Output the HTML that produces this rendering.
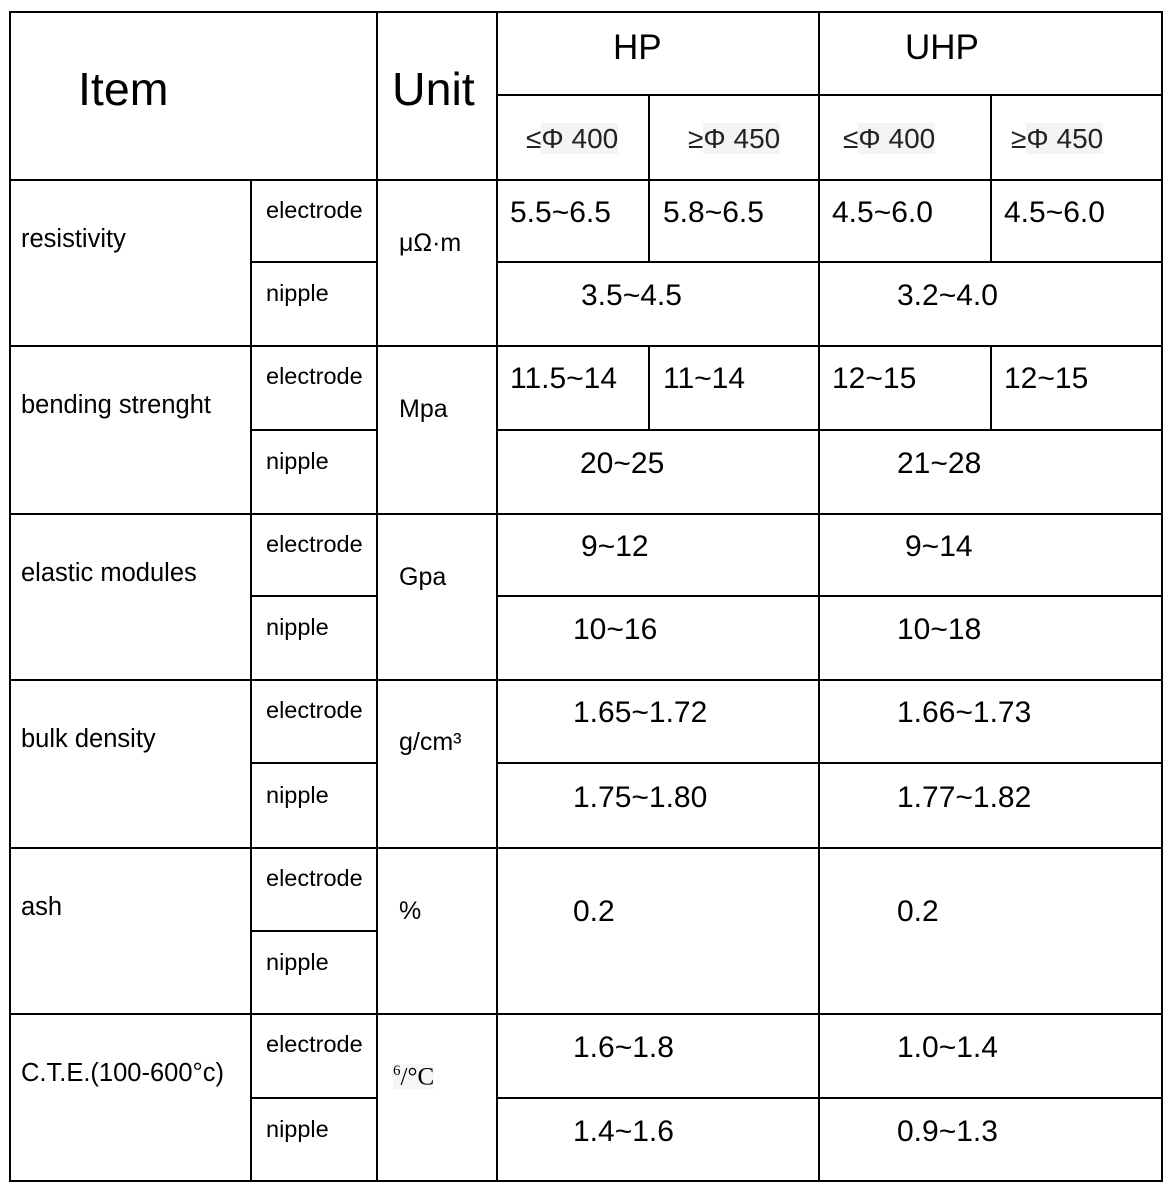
<!DOCTYPE html>
<html><head><meta charset="utf-8"><style>
body{margin:0;width:1172px;height:1194px;background:#fff;position:relative;font-family:"Liberation Sans",Arial,sans-serif;color:#000;overflow:hidden}
.h{position:absolute;height:2px;background:#000}
.v{position:absolute;width:2px;background:#000}
.t{position:absolute;white-space:nowrap;line-height:1}
.s{font-size:25.5px}
.e{font-size:23.5px}
.u{font-size:25px}
.n{font-size:30px}
.sub{font-size:28px;color:#222}
.hl{background:#f4f4f4}
</style></head><body>
<div class="h" style="left:9px;top:11px;width:1154px"></div>
<div class="h" style="left:9px;top:1180px;width:1154px"></div>
<div class="v" style="left:9px;top:11px;height:1171px"></div>
<div class="v" style="left:1161px;top:11px;height:1171px"></div>
<div class="v" style="left:376px;top:11px;height:1171px"></div>
<div class="v" style="left:496px;top:11px;height:1171px"></div>
<div class="v" style="left:818px;top:11px;height:1171px"></div>
<div class="v" style="left:250px;top:179px;height:1003px"></div>
<div class="h" style="left:496px;top:94px;width:666px"></div>
<div class="v" style="left:648px;top:94px;height:86px"></div>
<div class="v" style="left:990px;top:94px;height:86px"></div>
<div class="v" style="left:648px;top:179px;height:83px"></div>
<div class="v" style="left:990px;top:179px;height:83px"></div>
<div class="v" style="left:648px;top:345px;height:85px"></div>
<div class="v" style="left:990px;top:345px;height:85px"></div>
<div class="h" style="left:9px;top:179px;width:1154px"></div>
<div class="h" style="left:250px;top:261px;width:127px"></div><div class="h" style="left:496px;top:261px;width:666px"></div>
<div class="h" style="left:9px;top:345px;width:1154px"></div>
<div class="h" style="left:250px;top:429px;width:127px"></div><div class="h" style="left:496px;top:429px;width:666px"></div>
<div class="h" style="left:9px;top:513px;width:1154px"></div>
<div class="h" style="left:250px;top:595px;width:127px"></div><div class="h" style="left:496px;top:595px;width:666px"></div>
<div class="h" style="left:9px;top:679px;width:1154px"></div>
<div class="h" style="left:250px;top:762px;width:127px"></div><div class="h" style="left:496px;top:762px;width:666px"></div>
<div class="h" style="left:9px;top:847px;width:1154px"></div>
<div class="h" style="left:250px;top:930px;width:127px"></div>
<div class="h" style="left:9px;top:1013px;width:1154px"></div>
<div class="h" style="left:250px;top:1097px;width:127px"></div><div class="h" style="left:496px;top:1097px;width:666px"></div>
<div class="t" style="left:78px;top:66px;font-size:46.5px">Item</div>
<div class="t" style="left:392px;top:66px;font-size:46.5px">Unit</div>
<div class="t" style="left:613px;top:30px;font-size:35px">HP</div>
<div class="t" style="left:905px;top:30px;font-size:35px">UHP</div>
<div class="t sub" style="left:526px;top:125px">≤<span class="hl">Φ 400</span></div>
<div class="t sub" style="left:688px;top:125px">≥<span class="hl">Φ 450</span></div>
<div class="t sub" style="left:843px;top:125px">≤<span class="hl">Φ 400</span></div>
<div class="t sub" style="left:1011px;top:125px">≥<span class="hl">Φ 450</span></div>
<div class="t s" style="left:21px;top:227px">resistivity</div>
<div class="t s" style="left:21px;top:393px">bending strenght</div>
<div class="t s" style="left:21px;top:561px">elastic modules</div>
<div class="t s" style="left:21px;top:727px">bulk density</div>
<div class="t s" style="left:21px;top:895px">ash</div>
<div class="t s" style="left:21px;top:1061px">C.T.E.(100-600°c)</div>
<div class="t e" style="left:266px;top:199px">electrode</div>
<div class="t e" style="left:266px;top:282px">nipple</div>
<div class="t e" style="left:266px;top:365px">electrode</div>
<div class="t e" style="left:266px;top:450px">nipple</div>
<div class="t e" style="left:266px;top:533px">electrode</div>
<div class="t e" style="left:266px;top:616px">nipple</div>
<div class="t e" style="left:266px;top:699px">electrode</div>
<div class="t e" style="left:266px;top:784px">nipple</div>
<div class="t e" style="left:266px;top:867px">electrode</div>
<div class="t e" style="left:266px;top:951px">nipple</div>
<div class="t e" style="left:266px;top:1033px">electrode</div>
<div class="t e" style="left:266px;top:1118px">nipple</div>
<div class="t u" style="left:399px;top:231px">μΩ·m</div>
<div class="t u" style="left:399px;top:397px">Mpa</div>
<div class="t u" style="left:399px;top:565px">Gpa</div>
<div class="t u" style="left:399px;top:730px">g/cm³</div>
<div class="t u" style="left:399px;top:899px">%</div>
<div class="t" style="left:393px;top:1064px;font-size:25px;font-family:'Liberation Serif',serif;background:#f6f6f6"><sup style="font-size:15px">6</sup>/°C</div>
<div class="t n" style="left:510px;top:198px">5.5~6.5</div>
<div class="t n" style="left:663px;top:198px">5.8~6.5</div>
<div class="t n" style="left:832px;top:198px">4.5~6.0</div>
<div class="t n" style="left:1004px;top:198px">4.5~6.0</div>
<div class="t n" style="left:581px;top:281px">3.5~4.5</div>
<div class="t n" style="left:897px;top:281px">3.2~4.0</div>
<div class="t n" style="left:510px;top:364px">11.5~14</div>
<div class="t n" style="left:663px;top:364px">11~14</div>
<div class="t n" style="left:832px;top:364px">12~15</div>
<div class="t n" style="left:1004px;top:364px">12~15</div>
<div class="t n" style="left:580px;top:449px">20~25</div>
<div class="t n" style="left:897px;top:449px">21~28</div>
<div class="t n" style="left:581px;top:532px">9~12</div>
<div class="t n" style="left:905px;top:532px">9~14</div>
<div class="t n" style="left:573px;top:615px">10~16</div>
<div class="t n" style="left:897px;top:615px">10~18</div>
<div class="t n" style="left:573px;top:698px">1.65~1.72</div>
<div class="t n" style="left:897px;top:698px">1.66~1.73</div>
<div class="t n" style="left:573px;top:783px">1.75~1.80</div>
<div class="t n" style="left:897px;top:783px">1.77~1.82</div>
<div class="t n" style="left:573px;top:897px">0.2</div>
<div class="t n" style="left:897px;top:897px">0.2</div>
<div class="t n" style="left:573px;top:1033px">1.6~1.8</div>
<div class="t n" style="left:897px;top:1033px">1.0~1.4</div>
<div class="t n" style="left:573px;top:1117px">1.4~1.6</div>
<div class="t n" style="left:897px;top:1117px">0.9~1.3</div>
</body></html>
